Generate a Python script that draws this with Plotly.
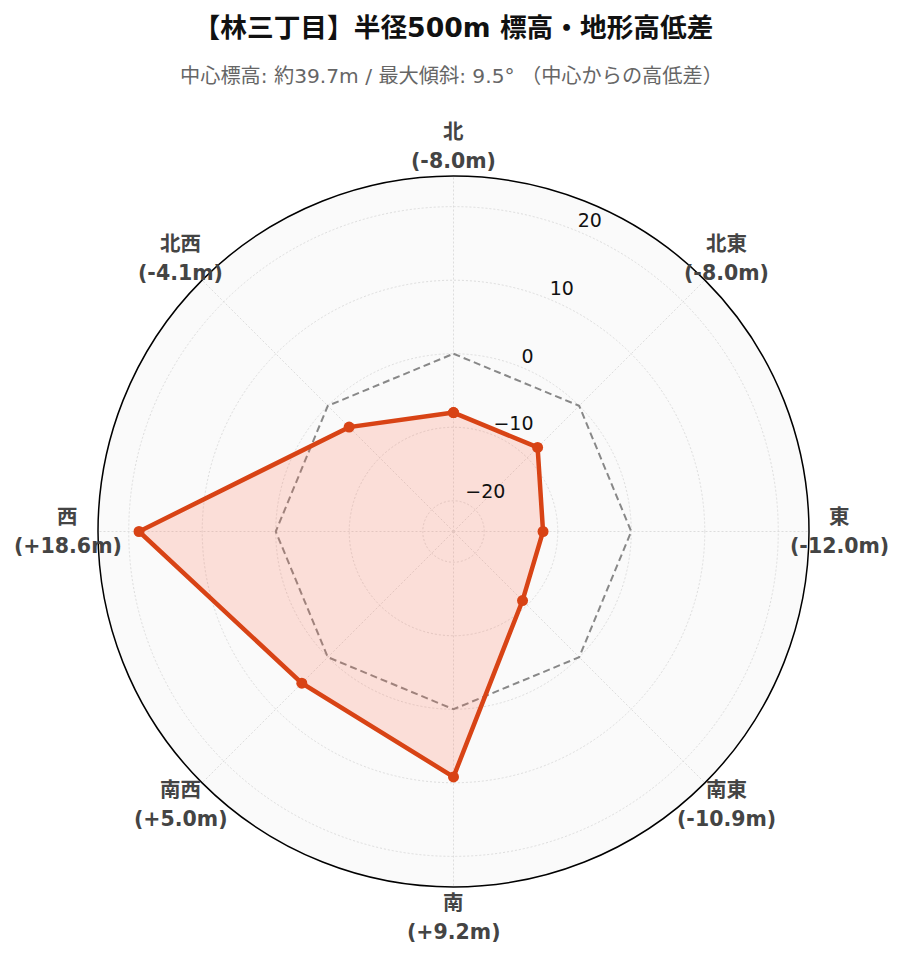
import math
import plotly.graph_objects as go

directions = ["北", "北東", "東", "南東", "南", "南西", "西", "北西"]
angles = [0, 45, 90, 135, 180, 225, 270, 315]
diffs = [-8.0, -8.0, -12.0, -10.9, 9.2, 5.0, 18.6, -4.1]
radial_ticks = [-20, -10, 0, 10, 20]
radial_tick_labels = ["−20", "−10", "0", "10", "20"]

title_text = "【林三丁目】半径500m 標高・地形高低差"
subtitle_text = "中心標高: 約39.7m / 最大傾斜: 9.5° （中心からの高低差）"

FONT = "DejaVu Sans, Noto Sans CJK JP, sans-serif"
MAIN = "#D84315"

W, H = 903, 962
M_L, M_R, M_T, M_B = 90, 102, 168, 83
side_px = W - M_L - M_R
label_frac = 385.5 / side_px

theta_closed = angles + [angles[0]]
r_closed = diffs + [diffs[0]]
zero_closed = [0] * len(theta_closed)

rmax = max(abs(v) for v in diffs) * 1.3

fig = go.Figure()
fig.add_trace(go.Scatterpolar(
    r=zero_closed, theta=theta_closed, mode="lines",
    line=dict(color="#888888", width=2, dash="7px,4px"),
    hoverinfo="skip", showlegend=False,
))
fig.add_trace(go.Scatterpolar(
    r=r_closed, theta=theta_closed, mode="lines+markers",
    fill="toself", fillcolor="rgba(255,112,80,0.20)",
    line=dict(color=MAIN, width=4.5),
    marker=dict(color=MAIN, size=11),
    showlegend=False,
))
# radial tick labels placed along 22.5° using the polar scale
fig.add_trace(go.Scatterpolar(
    r=radial_ticks, theta=[22.5] * len(radial_ticks), mode="text",
    text=radial_tick_labels, textposition="top right",
    textfont=dict(size=19, color="#111111", family=FONT),
    cliponaxis=False, hoverinfo="skip", showlegend=False,
))

annotations = [dict(text=subtitle_text, x=0.5 - 2.5 / side_px, xref="paper",
                    xanchor="center",
                    y=(H - 68 - M_B) / (H - M_T - M_B), yref="paper",
                    yanchor="middle", showarrow=False,
                    font=dict(size=20.2, color="#666666", family=FONT))]
for ang, name, val in zip(angles, directions, diffs):
    a = math.radians(ang)
    x = 0.5 + label_frac * math.sin(a)
    y = 0.5 + label_frac * math.cos(a)
    for txt, shift in ((f"<b>{name}</b>", 14.5), (f"<b>({val:+.1f}m)</b>", -14.5)):
        annotations.append(dict(
            text=txt, xref="paper", yref="paper", x=x, y=y, yshift=shift,
            xanchor="center", yanchor="middle", showarrow=False,
            font=dict(size=20.5, color="#444444", family=FONT),
        ))

fig.update_layout(
    width=W, height=H,
    paper_bgcolor="white",
    font=dict(family=FONT),
    margin=dict(l=M_L, r=M_R, t=M_T, b=M_B),
    title=dict(text=f"<b>{title_text}</b>", x=0.5 - 6 / W, xanchor="center",
               y=1 - 20 / H, yanchor="middle",
               font=dict(size=26.7, color="#111111", family=FONT)),
    annotations=annotations,
    polar=dict(
        bgcolor="#fafafa",
        radialaxis=dict(range=[-rmax, rmax], tickvals=radial_ticks, angle=67.5,
                        showticklabels=False,
                        showline=False, ticks="",
                        gridcolor="#dddddd", griddash="2px,2px", gridwidth=1),
        angularaxis=dict(direction="clockwise", rotation=90,
                         tickmode="array", tickvals=angles,
                         showticklabels=False,
                         showline=True, linecolor="black", linewidth=1.5,
                         ticks="", gridcolor="#dddddd", griddash="2px,2px",
                         gridwidth=1),
    ),
)
fig.write_html("out.html")
